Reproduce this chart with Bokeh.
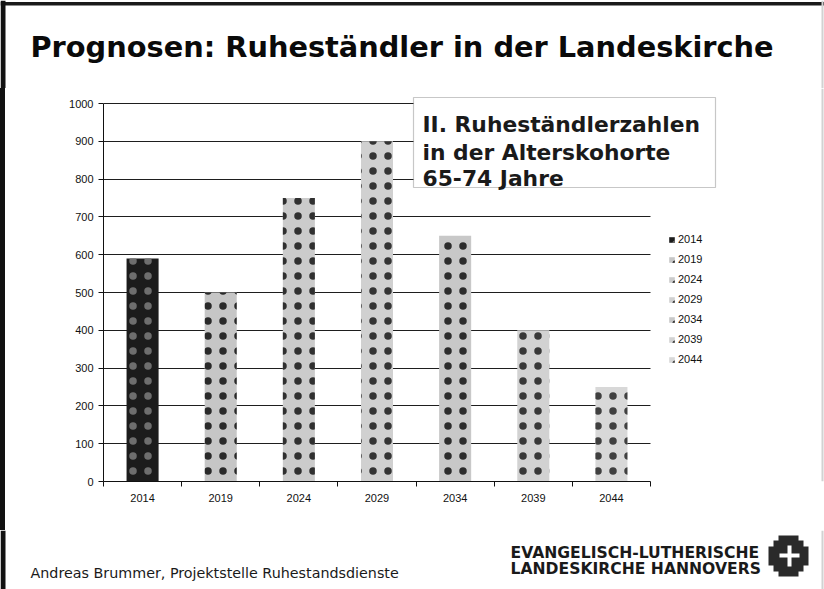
from bokeh.plotting import figure
from bokeh.layouts import column, row
from bokeh.models import (ColumnDataSource, Range1d, FixedTicker, Label, BoxAnnotation,
                          Legend, LegendItem, Spacer)
from bokeh.embed import file_html
from bokeh.resources import INLINE

# ---- data ----
years = ["2014", "2019", "2024", "2029", "2034", "2039", "2044"]
retirees = [590, 500, 750, 900, 650, 400, 250]
y_ticks = [0, 100, 200, 300, 400, 500, 600, 700, 800, 900, 1000]
y_max = 1000

title_text = "Prognosen: Ruheständler in der Landeskirche"
box_lines = ["II. Ruheständlerzahlen", "in der Alterskohorte", "65-74 Jahre"]
footer_text = "Andreas Brummer, Projektstelle Ruhestandsdienste"
logo_lines = ["EVANGELISCH-LUTHERISCHE", "LANDESKIRCHE HANNOVERS"]

# ---- styles ----
bar_fill = ["#1c1c1c", "#c6c6c6", "#cbcbcb", "#d0d0d0", "#c8c8c8", "#d2d2d2", "#d8d8d8"]
bar_hatch = ["#6e6e6e", "#2a2a2a", "#303030", "#343434", "#2c2c2c", "#383838", "#404040"]

W, H = 824, 589
TOP_H = 88          # header strip height
BOT_Y = 530         # footer strip starts here
LEFT_W = 5          # left border strip
FL, FR, FB, FT_GRID = 103, 650, 481, 103   # plot area in page pixels


def strip(width, height, bg="white"):
    f = figure(width=width, height=height, output_backend="svg", toolbar_location=None,
               x_axis_type=None, y_axis_type=None, title=None,
               x_range=Range1d(0, width), y_range=Range1d(0, height),
               min_border=0, min_border_left=0, min_border_right=0,
               min_border_top=0, min_border_bottom=0)
    f.outline_line_color = None
    f.grid.visible = False
    f.background_fill_color = bg
    f.border_fill_color = bg
    return f


def sbox(f, l, r, t, b, color):
    f.add_layout(BoxAnnotation(left=l, right=r, top=t, bottom=b,
                               left_units="screen", right_units="screen",
                               top_units="screen", bottom_units="screen",
                               fill_color=color, fill_alpha=1, line_color=None))


def slabel(f, x, y, txt, size, bold=False, font="DejaVu Sans", color="#111111"):
    f.add_layout(Label(x=x, y=y, x_units="screen", y_units="screen", text=txt,
                       text_font=font, text_font_style="bold" if bold else "normal",
                       text_font_size=size, text_color=color,
                       text_baseline="alphabetic"))


# ---------- header strip ----------
top = strip(W, TOP_H)
ty = lambda py: TOP_H - py
sbox(top, 0, W, ty(1.5), ty(5), "#1a1a1a")
sbox(top, 0, 5, ty(0), ty(TOP_H), "#111111")
sbox(top, 821, 823, ty(0), ty(TOP_H), "#d2d2d2")
slabel(top, 30, ty(46), title_text, "28.8px", bold=True, color="#0a0a0a")

mid_h = BOT_Y - TOP_H

# ---------- chart ----------
n = len(years)
xs = [i + 0.5 for i in range(n)]
src = ColumnDataSource(dict(x=xs, top=retirees, year=years, fill=bar_fill, hatch=bar_hatch))

CW = W - LEFT_W
frame_w = CW - (FL - LEFT_W)
x_end = n * frame_w / (FR - FL)
y_end = y_max * (FB - TOP_H) / (FB - FT_GRID)

p = figure(width=CW, height=mid_h, output_backend="svg", toolbar_location=None,
           x_range=Range1d(0, x_end), y_range=Range1d(0, y_end), title=None,
           min_border_left=FL - LEFT_W, min_border_right=0,
           min_border_top=0, min_border_bottom=BOT_Y - FB)
p.outline_line_color = None
p.background_fill_color = "white"
p.border_fill_color = "white"

r = p.vbar(x="x", top="top", width=0.41, bottom=0, source=src,
           fill_color="fill", line_color=None,
           hatch_pattern="dot", hatch_color="hatch", hatch_scale=15, hatch_weight=4)

p.xaxis.ticker = FixedTicker(ticks=xs, minor_ticks=list(range(n + 1)))
p.xaxis.major_label_overrides = {x: y for x, y in zip(xs, years)}
p.xaxis.bounds = (0, n)
p.xaxis.major_tick_out = 0
p.xaxis.major_tick_in = 0
p.xaxis.minor_tick_out = 5
p.xaxis.minor_tick_in = 0
p.xaxis.minor_tick_line_color = "#111111"
p.xaxis.major_label_standoff = 7
p.yaxis.ticker = FixedTicker(ticks=y_ticks)
p.yaxis.bounds = (0, y_max)
p.yaxis.major_tick_out = 5
p.yaxis.major_tick_in = 0
p.yaxis.minor_tick_out = 0
p.yaxis.major_label_standoff = 5
for ax in (p.xaxis[0], p.yaxis[0]):
    ax.axis_line_color = "#111111"
    ax.major_tick_line_color = "#111111"
    ax.major_label_text_font = "Liberation Sans"
    ax.major_label_text_font_size = "11px"
    ax.major_label_text_color = "#111111"

p.xgrid.grid_line_color = None
p.ygrid.ticker = FixedTicker(ticks=y_ticks)
p.ygrid.cross_bounds = (0, n)
p.ygrid.grid_line_color = "#1e1e1e"
p.ygrid.grid_line_width = 1

sx = lambda px: px - FL
sy = lambda py: FB - py

items = [LegendItem(label=y, renderers=[r], index=i) for i, y in enumerate(years)]
legend = Legend(items=items, location=(sx(668), sy(366)),
                glyph_width=7, glyph_height=7, label_height=14, spacing=6,
                label_standoff=3, padding=0, margin=0,
                border_line_color=None, background_fill_alpha=0,
                label_text_font="Liberation Sans", label_text_font_size="11px",
                label_text_color="#111111")
p.add_layout(legend, "center")

p.add_layout(BoxAnnotation(left=sx(413), right=sx(715), top=sy(97), bottom=sy(187),
                           left_units="screen", right_units="screen",
                           top_units="screen", bottom_units="screen",
                           fill_color="white", fill_alpha=1,
                           line_color="#444444", line_width=1.2))
for txt, base in zip(box_lines, [124, 152, 178]):
    slabel(p, sx(422), sy(base), txt, "21.8px", bold=True, color="#1a1a1a")
sbox(p, sx(821), sx(823), sy(TOP_H), sy(FB), "#d2d2d2")

# ---------- footer strip ----------
bot = strip(W, H - BOT_Y)
by = lambda py: H - py
sbox(bot, 0, 5, by(BOT_Y), by(H), "#111111")
sbox(bot, 821, 823, by(BOT_Y), by(H), "#d2d2d2")
slabel(bot, 30, by(572), footer_text, "14.3px", color="#1a1a1a")
for txt, base in zip(logo_lines, [552, 568]):
    slabel(bot, 510, by(base), txt, "15.6px", bold=True, color="#1a1a1a")
# logo: stepped cross with white cross inside
sbox(bot, 768, 808, by(546), by(565), "#2a2a2a")
sbox(bot, 778, 798, by(535), by(576), "#2a2a2a")
sbox(bot, 773, 803, by(540), by(571), "#2a2a2a")
sbox(bot, 787, 791, by(545), by(566), "white")
sbox(bot, 779, 799, by(553), by(557), "white")

middle = row(Spacer(width=LEFT_W, height=mid_h), p,
             styles={"background": "linear-gradient(to right, #111111 0px, #111111 5px, "
                                   "#ffffff 5px, #ffffff 100%)"})
layout = column(top, middle, bot)
open("out.html", "w").write(file_html(layout, INLINE))
